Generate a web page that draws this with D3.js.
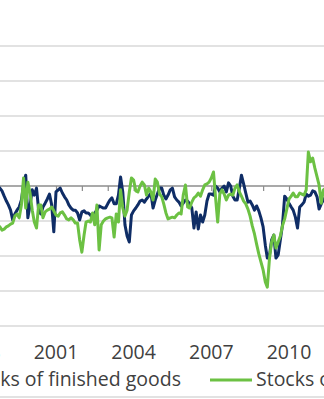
<!DOCTYPE html>
<html>
<head>
<meta charset="utf-8">
<script src="https://cdn.jsdelivr.net/npm/d3@7"></script>
<style>
  html, body { margin: 0; padding: 0; background: #fff; overflow: hidden; }
  svg { display: block; font-family: "Open Sans", "Noto Sans", sans-serif; }
</style>
</head>
<body>
<div id="chart"></div>
<script>
// monthly, first point Oct 1998
var startYear = 1998, startMonth = 9;

var finishedGoods = [
  0, -0.6, -1.4, -2.9, -4.3, -5.4, -6.9, -9.7, -8.0, -6.9,
  -6.0, -4.0, 0.3, 3.1, -9.1, -5.4, -1.1, -2.6, -0.6, -6.9,
  -8.0, -6.0, -4.9, -3.7, -2.3, -5.4, -13.1, -1.7, -1.1, -0.6,
  -2.0, -3.1, -4.0, -5.4, -6.3, -6.9, -6.9, -7.7, -9.7, -7.4,
  -7.1, -7.7, -7.7, -8.3, -9.1, -7.7, -6.9, -5.7, -6.0, -6.3,
  -6.3, -5.1, -4.0, -3.4, -5.1, -5.1, -2.6, 2.6, -1.7, -11.1,
  -14.3, -16.0, -8.3, -7.1, -6.3, -5.4, -4.3, -4.0, -4.6, -3.7,
  -2.9, -2.0, -6.3, -4.0, -2.3, -0.6, -0.6, -2.6, -3.7, -2.6,
  -1.1, -0.6, -3.1, -4.0, -4.6, -5.7, -4.9, -4.0, -4.3, -5.1,
  -6.3, -12.0, -7.4, -12.3, -8.3, -10.3, -8.3, -4.3, -2.3, -2.3,
  -2.6, 0, -0.6, -1.7, -0.6, 0, -1.7, 0.9, 0, -2.9,
  -4.0, -4.0, -0.6, 3.1, 0.6, -2.0, -4.6, -4.3, -5.4, -6.9,
  -5.7, -7.1, -9.1, -11.7, -16.9, -20.6, -19.7, -15.4, -14.0, -20.6,
  -19.7, -15.4, -11.1, -2.9, -3.7, -4.9, -6.0, -6.9, -8.9, -12.0,
  -6.0, -5.4, -4.6, -2.3, -2.9, -2.6, -1.4, -1.7, -3.1, -6.6,
  -5.1, -4.0, -3.1
];

var otherStocks = [
  -11.1, -11.7, -12.6, -12.3, -11.7, -11.4, -10.9, -10.6, -8.6, -8.0,
  -9.1, -5.4, 2.3, -6.3, 1.1, -2.0, -6.9, -10.3, -12.0, -5.4,
  -5.4, -9.1, -7.4, -6.9, -6.6, -6.0, -7.1, -8.3, -8.6, -7.7,
  -7.4, -8.3, -9.4, -9.7, -9.1, -9.7, -10.6, -10.6, -15.4, -18.9,
  -14.0, -10.3, -10.0, -10.3, -7.7, -11.1, -5.4, -18.3, -11.1, -10.0,
  -9.4, -9.1, -8.9, -9.1, -14.6, -8.0, -10.3, -1.1, -6.3, -8.6,
  -6.9, -1.7, 2.3, 1.7, -1.4, -1.7, 0, 1.1, 0.3, -2.6,
  -0.6, -1.7, -4.0, 2.0, 1.1, -2.3, -3.1, -5.1, -7.7, -9.4,
  -9.1, -8.9, -9.1, -8.3, -7.7, -8.0, -2.6, 0.3, -6.0, -6.3,
  -4.6, -3.4, -2.9, -2.0, -2.9, -1.1, 0.3, 0.6, 1.1, 2.3,
  4.0, -3.1, -10.3, -2.3, -1.1, -2.3, -4.0, -2.6, -2.3, -2.6,
  -0.6, 0.3, -1.7, -2.9, -4.3, -5.1, -6.6, -8.6, -11.4, -13.7,
  -16.6, -19.4, -21.7, -24.0, -27.4, -28.9, -20.6, -16.0, -14.0, -17.7,
  -16.0, -14.3, -11.4, -9.4, -6.6, -3.7, -2.9, -2.0, -3.1, -3.1,
  -2.0, -2.3, -2.6, -1.1, 9.7, 6.9, 8.0, 5.1, 2.6, 0.3,
  -4.9, -1.1, -0.6
];

var seriesNames = ["Stocks of finished goods", "Stocks of raw materials"];
var seriesColors = ["#0f2d66", "#6cc143"];
var yTicks = [-40, -30, -20, -10, 0, 10, 20, 30, 40];
var labelYears = [1998, 2001, 2004, 2007, 2010, 2013];

var width = 324, height = 399;
var fontSize = "19.5px";

var svg = d3.select("#chart")
    .append("svg")
    .attr("width", width)
    .attr("height", height);

var x = d3.scaleTime()
    .domain([new Date(2001, 0, 1), new Date(2010, 0, 1)])
    .range([56, 289]);

var y = d3.scaleLinear()
    .domain([-40, 40])
    .range([326, 46]);

function toRows(values) {
    return values.map(function (v, i) {
        return { date: new Date(startYear, startMonth + i, 1), value: v };
    });
}

// gridlines
svg.append("g")
    .selectAll("line")
    .data(yTicks.filter(function (d) { return d != 0; }))
    .enter()
    .append("line")
    .attr("x1", 0)
    .attr("x2", width)
    .attr("y1", function (d) { return y(d); })
    .attr("y2", function (d) { return y(d); })
    .style("stroke", "#d9d9d9")
    .attr("stroke-width", 1.5);

// zero axis with yearly ticks
var zeroAxis = svg.append("g")
    .attr("transform", "translate(0," + y(0) + ")")
    .call(d3.axisBottom(x)
        .ticks(d3.timeYear.every(1))
        .tickSize(5)
        .tickFormat(""));
zeroAxis.select(".domain").remove();
zeroAxis.selectAll(".tick line").style("stroke", "#8c8c8c").attr("stroke-width", 1.2);
zeroAxis.append("line")
    .attr("x1", 0).attr("x2", width)
    .style("stroke", "#8c8c8c")
    .attr("stroke-width", 1.5);

// lines
var line = d3.line()
    .x(function (d) { return x(d.date); })
    .y(function (d) { return y(d.value); });

[finishedGoods, otherStocks].forEach(function (vals, k) {
    svg.append("path")
        .datum(toRows(vals))
        .attr("d", line)
        .style("fill", "none")
        .style("stroke", seriesColors[k])
        .attr("stroke-width", 3)
        .attr("stroke-linejoin", "round");
});

// year labels at the bottom
svg.append("g")
    .selectAll("text")
    .data(labelYears)
    .enter()
    .append("text")
    .attr("x", function (d) { return x(new Date(d, 0, 1)); })
    .attr("y", 359)
    .attr("text-anchor", "middle")
    .style("font-size", fontSize)
    .style("fill", "#404040")
    .text(function (d) { return d; });

// legend
var legendEnd = 181;
svg.append("line")
    .attr("x1", legendEnd - 270).attr("x2", legendEnd - 228)
    .attr("y1", 380).attr("y2", 380)
    .style("stroke", seriesColors[0]).attr("stroke-width", 3);
svg.append("text")
    .attr("x", legendEnd).attr("y", 386)
    .attr("text-anchor", "end")
    .style("font-size", fontSize).style("fill", "#404040")
    .text(seriesNames[0]);
svg.append("line")
    .attr("x1", 210).attr("x2", 252)
    .attr("y1", 380).attr("y2", 380)
    .style("stroke", seriesColors[1]).attr("stroke-width", 3);
svg.append("text")
    .attr("x", 256).attr("y", 386)
    .style("font-size", fontSize).style("fill", "#404040")
    .text(seriesNames[1]);

// bottom border
svg.append("line")
    .attr("x1", 0).attr("x2", width)
    .attr("y1", 397).attr("y2", 397)
    .style("stroke", "#d9d9d9").attr("stroke-width", 1.5);
</script>
</body>
</html>
